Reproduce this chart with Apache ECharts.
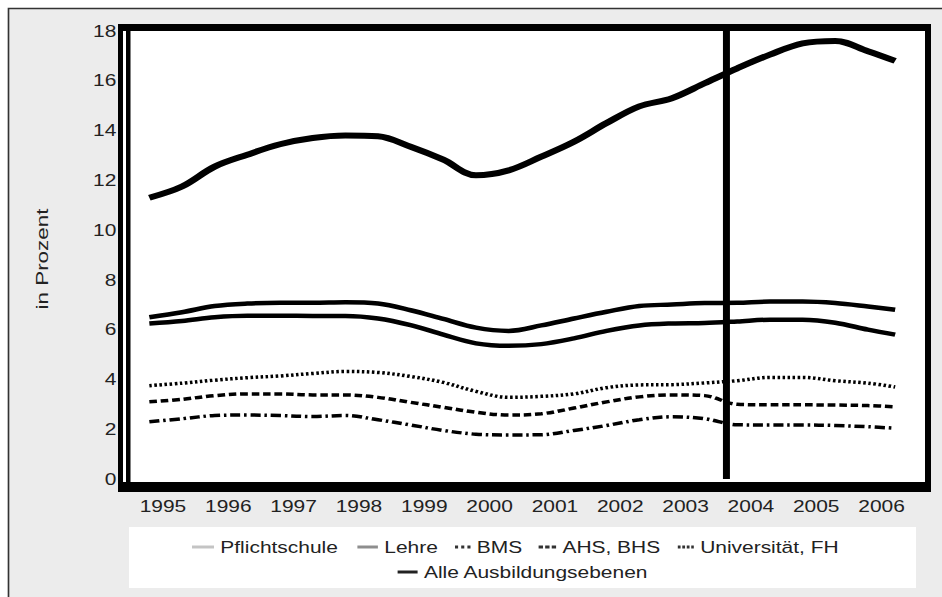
<!DOCTYPE html>
<html>
<head>
<meta charset="utf-8">
<script src="https://cdn.jsdelivr.net/npm/echarts@6/dist/echarts.min.js"></script>
<style>
html,body{margin:0;padding:0;background:#fff;overflow:hidden;}
#wrap{width:942px;height:597px;overflow:hidden;}
#chart{height:597px;transform-origin:0 0;}
</style>
</head>
<body>
<div id="wrap"><div id="chart"></div></div>
<script>
// ---- data ----
const years = ['1995','1996','1997','1998','1999','2000','2001','2002','2003','2004','2005','2006'];
const months = ['1995-04','1995-10','1996-04','1996-10','1997-04','1997-10','1998-04','1998-10',
  '1999-04','1999-10','2000-04','2000-10','2001-04','2001-10','2002-04','2002-10',
  '2003-04','2003-10','2004-04','2004-10','2005-04','2005-10','2006-04','2006-09'];
const breakMonth = '2004-02';
const yTicks = [0,2,4,6,8,10,12,14,16,18];
const yTitle = 'in Prozent';

const pflichtschule = [11.3,11.75,12.55,13.03,13.45,13.7,13.8,13.77,13.35,12.83,12.2,12.4,
  12.95,13.55,14.3,14.97,15.3,15.9,16.5,17.05,17.5,17.6,17.19,16.8];
const lehre = [6.25,6.35,6.5,6.56,6.56,6.55,6.55,6.45,6.18,5.8,5.45,5.35,
  5.42,5.65,5.95,6.17,6.25,6.27,6.33,6.4,6.4,6.28,6.0,5.8];
const bms = [3.75,3.85,3.97,4.07,4.14,4.24,4.32,4.28,4.12,3.88,3.52,3.28,
  3.32,3.42,3.67,3.78,3.79,3.86,3.95,4.08,4.08,3.95,3.85,3.7];
const ahsBhs = [3.1,3.2,3.35,3.42,3.42,3.38,3.38,3.28,3.08,2.88,2.68,2.57,
  2.62,2.85,3.1,3.3,3.38,3.35,3.0,2.98,2.98,2.97,2.95,2.9];
const uniFh = [2.3,2.42,2.55,2.57,2.55,2.51,2.55,2.38,2.17,1.95,1.8,1.77,
  1.78,1.95,2.15,2.38,2.5,2.42,2.18,2.17,2.17,2.15,2.1,2.04];
const alle = [6.5,6.7,6.95,7.05,7.08,7.08,7.1,7.05,6.78,6.43,6.08,5.95,
  6.17,6.45,6.72,6.95,7.01,7.07,7.08,7.13,7.13,7.07,6.93,6.8];

const names = ['Pflichtschule','Lehre','BMS','AHS, BHS','Universität, FH','Alle Ausbildungsebenen'];

// ---- layout helpers (chart drawn narrower, then stretched horizontally) ----
const S = 1.27;                 // horizontal stretch of the reference picture
const W = 942 / S;
const X = v => v / S;           // reference pixel x -> unstretched x
const el = document.getElementById('chart');
el.style.width = W + 'px';
el.style.transform = 'scaleX(' + S + ')';

function toT(m){ const p = m.split('-'); return +p[0] + (+p[1] - 0.5) / 12; }
function pts(vals){ return months.map((m,i)=>[toT(m), vals[i]]); }

const FONT = 'Liberation Sans';
const FS = 16.5;
const chart = echarts.init(el, null, {renderer:'svg', width:W, height:597});

function lineSeries(name, vals, style, extra){
  return Object.assign({
    name: name, type:'line', xAxisIndex:1, yAxisIndex:0,
    data: pts(vals), smooth:0.35, symbol:'none', showSymbol:false,
    lineStyle: style, itemStyle:{color: style.color}, z:3
  }, extra||{});
}

function legendItem(name, left, top, w, icon, color){
  return {
    data:[{name:name, icon:icon, itemStyle:{color:color, borderWidth:0}}],
    left:left, top:top, padding:0, itemWidth:w, itemHeight:3, itemGap:0,
    selectedMode:false, symbolKeepAspect:false,
    textStyle:{fontSize:FS, color:'#222', fontFamily:FONT, lineHeight:20}
  };
}
const solid = w => 'path://M0,0H' + w + 'V3H0Z';
const dotsIcon = 'path://M0,0h3v3h-3z M6,0h3v3h-3z M12,0h3v3h-3z';
const dashIcon = 'path://M0,0h4v3h-4z M6,0h4v3h-4z M12,0h4v3h-4z';
const dashDotIcon = 'path://M0,0h2.6v3h-2.6z M4.2,0h2.6v3h-2.6z M8.4,0h2.6v3h-2.6z M12.6,0h2.4v3h-2.4z';

const option = {
  backgroundColor:'#ffffff',
  animation:false,
  textStyle:{fontFamily:FONT},
  graphic:[
    {type:'rect', z:-100, shape:{x:X(8.5),y:8.5,width:2000,height:2000},
      style:{fill:'#ececec', stroke:'#333', lineWidth:1.3}},
    {type:'rect', z:-90, shape:{x:X(123),y:31,width:X(802),height:451}, style:{fill:'#fff'}},
    {type:'rect', z:-90, shape:{x:X(129),y:527,width:X(787),height:61}, style:{fill:'#fff'}},
    {type:'rect', z:50, shape:{x:X(118),y:24,width:X(813),height:7}, style:{fill:'#000'}},
    {type:'rect', z:50, shape:{x:X(118),y:482,width:X(813),height:10}, style:{fill:'#000'}},
    {type:'rect', z:50, shape:{x:X(118),y:24,width:X(5),height:468}, style:{fill:'#000'}},
    {type:'rect', z:50, shape:{x:X(126),y:24,width:X(4.5),height:468}, style:{fill:'#000'}},
    {type:'rect', z:50, shape:{x:X(925),y:24,width:X(6),height:468}, style:{fill:'#000'}},
    {type:'text', z:20, x:X(42), y:259, rotation:Math.PI/2, scaleX:1.36, scaleY:1/S,
      style:{text:yTitle, fill:'#222', font:FS + 'px "' + FONT + '"',
        align:'center', verticalAlign:'middle'}}
  ],
  grid:{left:X(130.3), right:W - X(914.2), top:31, bottom:118, containLabel:false},
  xAxis:[
    {type:'category', data:years, boundaryGap:true, position:'bottom',
      axisLine:{show:false}, axisTick:{show:false},
      axisLabel:{fontSize:FS, color:'#222', margin:19, fontFamily:FONT},
      splitLine:{show:false}},
    {type:'value', min:1995, max:2007, show:false, splitLine:{show:false}}
  ],
  yAxis:{type:'value', min:yTicks[0], max:yTicks[yTicks.length-1], interval:2,
    axisLine:{show:false}, axisTick:{show:false}, splitLine:{show:false},
    axisLabel:{fontSize:FS, color:'#222', margin:X(14), fontFamily:FONT}},
  legend:[
    legendItem(names[0], X(192), 537, X(22), solid(22), '#c4c4c4'),
    legendItem(names[1], X(357.4), 537, X(20.5), solid(20), '#8e8e8e'),
    legendItem(names[2], X(455), 537, X(15.5), dotsIcon, '#333'),
    legendItem(names[3], X(538.6), 537, X(17.5), dashIcon, '#333'),
    legendItem(names[4], X(677.8), 537, X(16), dashDotIcon, '#333'),
    legendItem(names[5], X(397.6), 562, X(20), solid(20), '#222')
  ],
  series:[
    lineSeries(names[0], pflichtschule, {color:'#000', width:6}),
    lineSeries(names[1], lehre, {color:'#000', width:4.5}),
    lineSeries(names[2], bms, {color:'#000', width:3.5, type:[2,2]}),
    lineSeries(names[3], ahsBhs, {color:'#000', width:3.5, type:[6,3]}),
    lineSeries(names[4], uniFh, {color:'#000', width:3.5, type:[8,3,2,3]}),
    lineSeries(names[5], alle, {color:'#000', width:4.5}, {
      markLine:{silent:true, symbol:'none', label:{show:false},
        lineStyle:{color:'#000', width:5.5, type:'solid'},
        data:[{xAxis: toT(breakMonth)}]}
    })
  ]
};
chart.setOption(option);
</script>
</body>
</html>
